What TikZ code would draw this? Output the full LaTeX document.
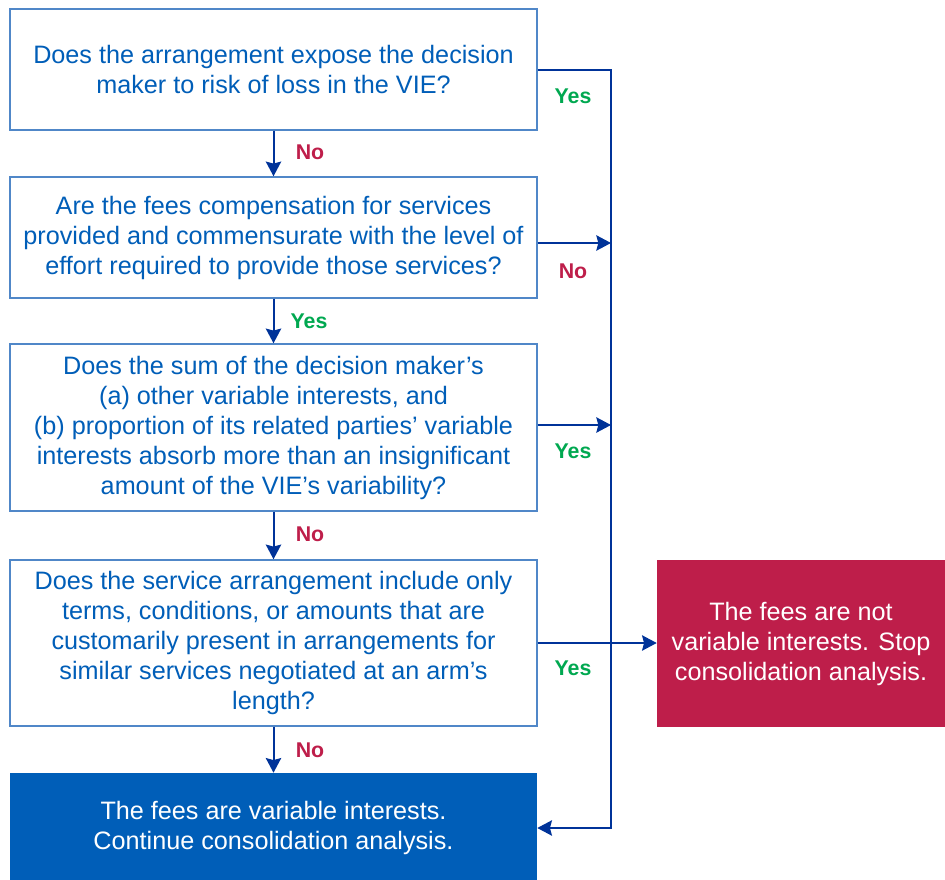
\documentclass[tikz,border=0pt]{standalone}
\usepackage{fontspec}
\setmainfont{Liberation Sans}
\usetikzlibrary{arrows.meta}
\definecolor{txtblue}{RGB}{0,94,184}
\definecolor{bordblue}{RGB}{80,135,200}
\definecolor{lineblue}{RGB}{0,51,153}
\definecolor{redfill}{RGB}{190,30,74}
\definecolor{yesgreen}{RGB}{0,168,80}
\definecolor{fillblue}{RGB}{0,94,184}
\begin{document}
\begin{tikzpicture}[x=0.75pt,y=-0.75pt,
  qbox/.style={draw=bordblue,line width=1.1pt,fill=white,text=txtblue,align=center,
    inner sep=0pt,minimum width=527*0.75pt,
    font=\fontsize{18.9pt}{22.5pt}\selectfont},
  endbox/.style={fill=#1,text=white,align=center,inner sep=0pt,
    font=\fontsize{18.9pt}{22.5pt}\selectfont},
  conn/.style={draw=lineblue,line width=1.5pt},
  arr/.style={conn,-{Stealth[length=11pt,width=11.5pt,inset=1.5pt]}},
  yeslab/.style={text=yesgreen,font=\fontsize{16pt}{18pt}\selectfont\bfseries},
  nolab/.style={text=redfill,font=\fontsize{16pt}{18pt}\selectfont\bfseries}]
\useasboundingbox (0,0) rectangle (945,880);
\node[qbox,minimum height=121*0.75pt] (b1) at (273.5,69.5)
  {Does the arrangement expose the decision\\maker to risk of loss in the VIE?};
\node[qbox,minimum height=121*0.75pt] (b2) at (273.5,237.5)
  {Are the fees compensation for services\\provided and commensurate with the level of\\effort required to provide those services?};
\node[qbox,minimum height=167*0.75pt] (b3) at (273.5,427.5)
  {Does the sum of the decision maker’s\\(a) other variable interests, and\\(b) proportion of its related parties’ variable\\interests absorb more than an insignificant\\amount of the VIE’s variability?};
\node[qbox,minimum height=166*0.75pt] (b4) at (273.5,643)
  {Does the service arrangement include only\\terms, conditions, or amounts that are\\customarily present in arrangements for\\similar services negotiated at an arm’s\\length?};
\node[endbox=fillblue,minimum width=527*0.75pt,minimum height=110*0.75pt] (b5) at (273.5,828)
  {The fees are variable interests.\\Continue consolidation analysis.};
\node[endbox=redfill,minimum width=288*0.75pt,minimum height=167*0.75pt] (r) at (801,643.5)
  {The fees are not\\variable interests. Stop\\consolidation analysis.};
\coordinate (t1) at (611,70);
\coordinate (t2) at (611,828);
\coordinate (j2) at (611,243);
\coordinate (j3) at (611,425);
% vertical bus
\draw[arr] (b1.east |- t1) -- (t1) -- (t2) -- (b5.east |- t2);
\draw[arr] (b2.east |- j2) -- (j2);
\draw[arr] (b3.east |- j3) -- (j3);
\draw[arr] (b4.east) -- (r.west |- b4.east);
% downward
\draw[arr] (b1.south) -- (b2.north);
\draw[arr] (b2.south) -- (b3.north);
\draw[arr] (b3.south) -- (b4.north);
\draw[arr] (b4.south) -- (b5.north);
% labels
\node[nolab] (n1) at (310,152) {No};
\node[yeslab] (n2) at (309,321) {Yes};
\node[nolab] (n3) at (310,534) {No};
\node[nolab] (n4) at (310,750) {No};
\node[yeslab] (s1) at (573,96) {Yes};
\node[nolab] (s2) at (573,271) {No};
\node[yeslab] (s3) at (573,451) {Yes};
\node[yeslab] (s4) at (573,668) {Yes};
\end{tikzpicture}
\end{document}
